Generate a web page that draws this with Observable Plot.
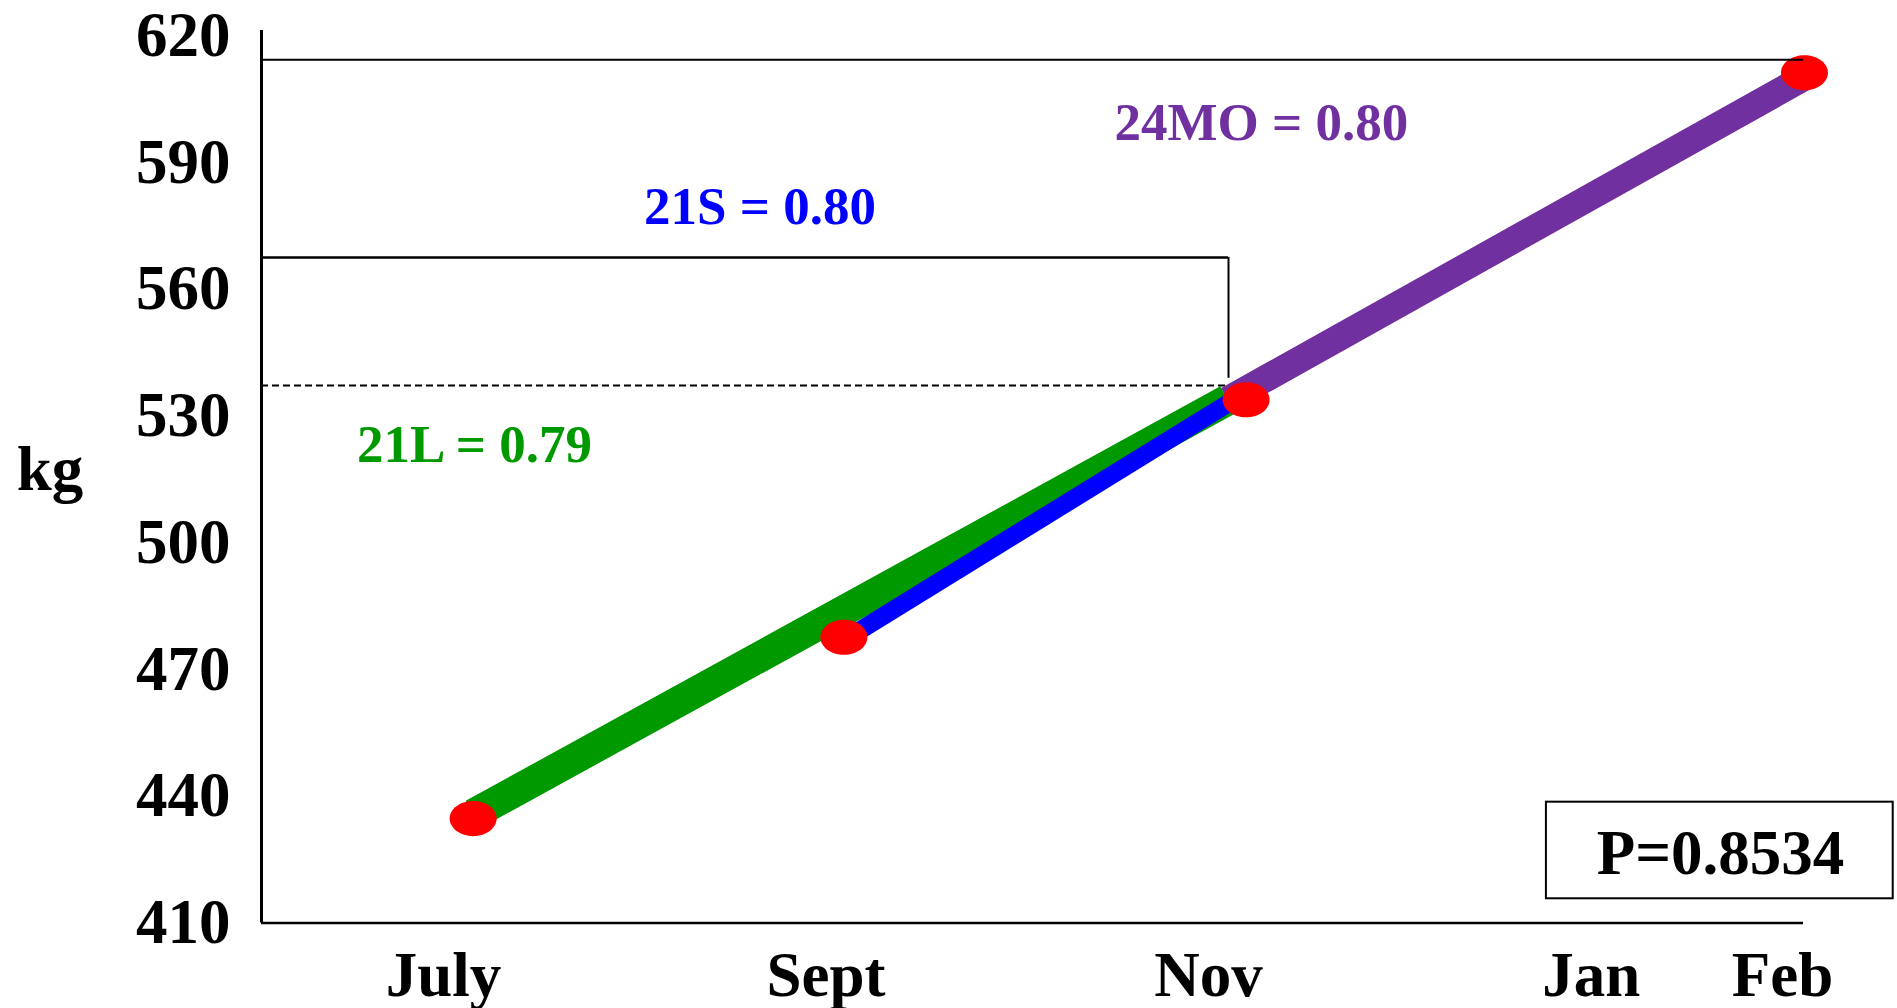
<!DOCTYPE html>
<html>
<head>
<meta charset="utf-8">
<script src="https://cdn.jsdelivr.net/npm/d3@7"></script>
<script src="https://cdn.jsdelivr.net/npm/@observablehq/plot@0.6"></script>
<style>
  html, body { margin: 0; padding: 0; background: #fff; overflow: hidden; }
</style>
</head>
<body>
<div id="chart"></div>
<script>
// Months are counted from July (0) through Feb (7).
const monthLabels = ["July", "Sept", "Nov", "Jan", "Feb"];
const monthTicks = [0, 2, 4, 6, 7];
const kgTicks = [410, 440, 470, 500, 530, 560, 590, 620];

// 21L group: July to Nov
const l21Month = [0.155, 4.10];
const l21Kg = [435.7, 533.8];
// 21S group: Sept to Nov
const s21Month = [2.093, 4.10];
const s21Kg = [476.9, 532.9];
// 24MO group: Nov to Feb
const mo24Month = [4.10, 7.11];
const mo24Kg = [533.8, 610.0];
// mean body weight at each weighing
const meanMonth = [0.155, 2.093, 4.196, 7.115];
const meanKg = [434.7, 477.6, 533.8, 611.2];

// reference levels drawn from the y axis
const topRefKg = 614.3;
const bracketKg = [567.5, 538.9];
const dashedRefKg = 537.2;
const bracketMonth = 4.104;

const pValue = "P=0.8534";

const toRows = (xs, ys) => xs.map((m, i) => ({month: m, kg: ys[i]}));
const l21 = toRows(l21Month, l21Kg);
const s21 = toRows(s21Month, s21Kg);
const mo24 = toRows(mo24Month, mo24Kg);
const means = toRows(meanMonth, meanKg);

const xMin = -0.9515, xMax = 7.11;
const yMin = 410, yMax = 621.2;

// oval marker (wider than tall)
const oval = {
  draw(ctx, size) {
    const r = Math.sqrt(size / Math.PI);
    const rx = r, ry = r * 0.745, k = 0.5523;
    ctx.moveTo(rx, 0);
    ctx.bezierCurveTo(rx, k * ry, k * rx, ry, 0, ry);
    ctx.bezierCurveTo(-k * rx, ry, -rx, k * ry, -rx, 0);
    ctx.bezierCurveTo(-rx, -k * ry, -k * rx, -ry, 0, -ry);
    ctx.bezierCurveTo(k * rx, -ry, rx, -k * ry, rx, 0);
    ctx.closePath();
  }
};

const font = "'Liberation Serif', 'Times New Roman', Times, serif";

const chart = Plot.plot({
  width: 1897,
  height: 1008,
  marginLeft: 261,
  marginRight: 94,
  marginTop: 30,
  marginBottom: 85.5,
  x: {domain: [xMin, xMax]},
  y: {domain: [yMin, yMax]},
  style: {fontFamily: font, fontWeight: "bold", color: "black", background: "white", overflow: "visible"},
  marks: [
    // axes
    Plot.axisY({ticks: kgTicks, tickSize: 0, tickPadding: 31, fontSize: 63, fontWeight: "bold", label: null}),
    Plot.axisX({ticks: monthTicks, tickFormat: (d) => monthLabels[monthTicks.indexOf(d)], tickSize: 0, tickPadding: 28, fontSize: 63, fontWeight: "bold", label: null}),
    Plot.ruleX([xMin], {y1: yMin, y2: yMax, stroke: "black", strokeWidth: 3}),
    Plot.ruleY([yMin], {x1: xMin, x2: xMax, stroke: "black", strokeWidth: 2.5}),

    // reference bracket and dashed level
    Plot.ruleY([bracketKg[0]], {x1: xMin, x2: bracketMonth, stroke: "black", strokeWidth: 2.5}),
    Plot.ruleX([bracketMonth], {y1: bracketKg[0], y2: bracketKg[1], stroke: "black", strokeWidth: 2}),
    Plot.ruleY([dashedRefKg], {x1: xMin, x2: bracketMonth, stroke: "black", strokeWidth: 2, strokeDasharray: "7,4"}),

    // group lines
    Plot.line(l21, {x: "month", y: "kg", stroke: "#009900", strokeWidth: 31, strokeLinecap: "butt"}),
    Plot.line(s21, {x: "month", y: "kg", stroke: "#0000FF", strokeWidth: 18, strokeLinecap: "butt"}),
    Plot.line(mo24, {x: "month", y: "kg", stroke: "#7030A0", strokeWidth: 27, strokeLinecap: "butt"}),

    // means
    Plot.dot(means, {x: "month", y: "kg", r: 23.5, symbol: oval, fill: "#FF0000", stroke: "none"}),

    // top reference level
    Plot.ruleY([topRefKg], {x1: xMin, x2: xMax, stroke: "black", strokeWidth: 2}),

    // group labels
    Plot.text(["24MO = 0.80"], {x: 4.276, y: 595.2, fill: "#7030A0", fontSize: 53, fontWeight: "bold", lineAnchor: "bottom", textAnchor: "middle"}),
    Plot.text(["21S = 0.80"], {x: 1.655, y: 575.5, fill: "#0000FF", fontSize: 53, fontWeight: "bold", lineAnchor: "bottom", textAnchor: "middle"}),
    Plot.text(["21L = 0.79"], {x: 0.162, y: 519.0, fill: "#009900", fontSize: 53, fontWeight: "bold", lineAnchor: "bottom", textAnchor: "middle"}),

    // y axis unit
    Plot.text(["kg"], {x: -2.057, y: 512.4, fill: "black", fontSize: 63, fontWeight: "bold", lineAnchor: "bottom", textAnchor: "middle"}),

    // P value box
    Plot.rect([0], {x1: 5.766, x2: 7.579, y1: 415.73, y2: 438.59, fill: "white", stroke: "black", strokeWidth: 2}),
    Plot.text([pValue], {x: 6.676, y: 421.64, fill: "black", fontSize: 63, fontWeight: "bold", lineAnchor: "bottom", textAnchor: "middle"})
  ]
});

document.getElementById("chart").appendChild(chart);
</script>
</body>
</html>
